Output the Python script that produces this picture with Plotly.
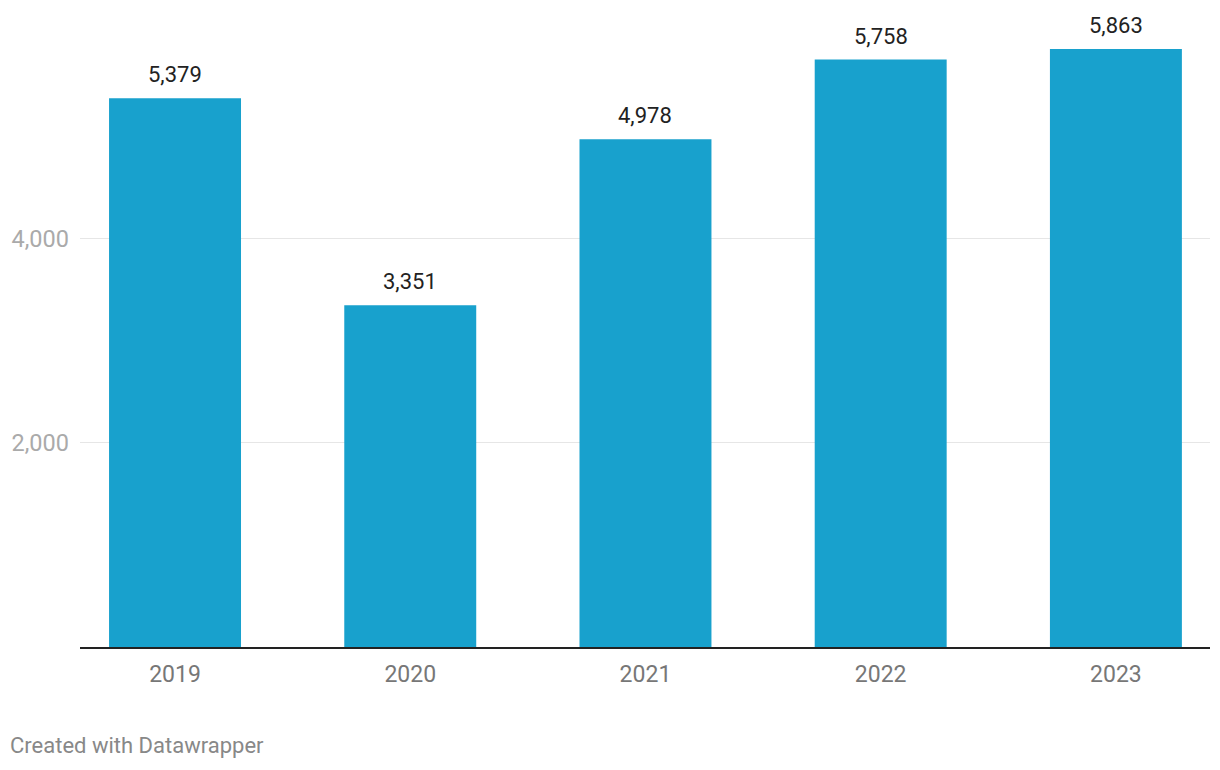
import plotly.graph_objects as go

years = ["2019", "2020", "2021", "2022", "2023"]
values = [5379, 3351, 4978, 5758, 5863]
y_ticks = [2000, 4000]
y_tick_labels = ["2,000", "4,000"]

BAR = "#18a1cd"

fig = go.Figure()
fig.add_trace(go.Bar(
    x=years, y=values, marker=dict(color=BAR, line=dict(width=0)),
    width=0.561, hoverinfo="skip",
))

for i, v in enumerate(values):
    fig.add_annotation(
        x=i, y=v, text=f"{v:,}", showarrow=False, yanchor="bottom",
        yshift=9, font=dict(family="Roboto", size=22, color="#222222"),
    )

fig.add_annotation(
    xref="paper", yref="paper", x=-72/1130, y=-(746-647.5)/607.5,
    xanchor="left", yanchor="middle", showarrow=False,
    text="Created with Datawrapper",
    font=dict(family="Roboto", size=22, color="#888888"),
)

fig.update_layout(
    width=1212, height=762,
    margin=dict(l=72, r=10, t=32, b=122.5, autoexpand=False),
    paper_bgcolor="white", plot_bgcolor="white",
    showlegend=False,
    font=dict(family="Roboto"),
    xaxis=dict(
        type="category", range=[-0.404, 4.4], automargin=False,
        showgrid=False, zeroline=False,
        showline=True, linecolor="#222222", linewidth=2,
        ticks="", tickfont=dict(family="Roboto", size=23, color="#777777"),
        ticklabelstandoff=5,
    ),
    yaxis=dict(
        range=[0, 5950], tickvals=y_ticks, ticktext=y_tick_labels,
        automargin=False,
        showgrid=True, gridcolor="#e6e6e6", gridwidth=1,
        zeroline=False, showline=False, ticks="",
        tickfont=dict(family="Roboto", size=23.5, color="#aaaaaa"),
        ticklabelstandoff=10,
    ),
)

fig.write_html("out.html")
